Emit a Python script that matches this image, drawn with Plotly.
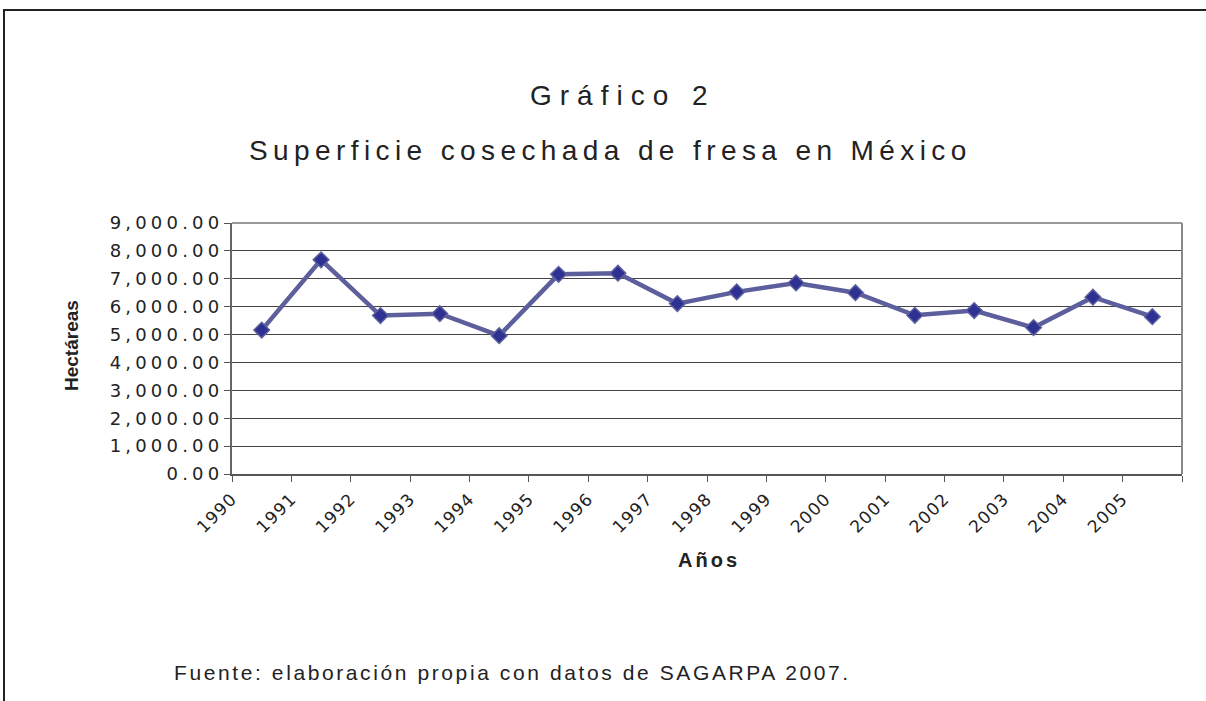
import plotly.graph_objects as go

years = [1990, 1991, 1992, 1993, 1994, 1995, 1996, 1997, 1998, 1999, 2000, 2001, 2002, 2003, 2004, 2005]
hectareas = [5160, 7680, 5680, 5750, 4960, 7160, 7200, 6110, 6530, 6850, 6500, 5690, 5860, 5250, 6340, 5640]
y_ticks = [0, 1000, 2000, 3000, 4000, 5000, 6000, 7000, 8000, 9000]

title1 = "Gráfico 2"
title2 = "Superficie cosechada de fresa en México"
x_title = "Años"
y_title = "Hectáreas"
source = "Fuente: elaboración propia con datos de SAGARPA 2007."

W, H = 1206, 701
L, R, T, B = 232, 1182, 223, 474

def px(x):
    return (x - L) / (R - L)

def py(y):
    return (B - y) / (B - T)

def sp(text, ls):
    return f"<span style='letter-spacing:{ls}px'>{text}</span>"

fig = go.Figure()
fig.add_trace(go.Scatter(
    x=[y + 0.5 for y in years], y=hectareas,
    mode="lines+markers",
    line=dict(color="#5c5f9c", width=4.5),
    marker=dict(symbol="diamond", size=12, color="#2e3192",
                line=dict(color="#5c5f9c", width=1.5)),
    showlegend=False, hoverinfo="skip",
))

fig.update_layout(
    width=W, height=H,
    margin=dict(l=L, r=W - R, t=T, b=H - B),
    paper_bgcolor="white", plot_bgcolor="white",
    font=dict(family="Arial, Liberation Sans", color="#222"),
    xaxis=dict(
        range=[years[0], years[-1] + 1],
        tickvals=years + [years[-1] + 1],
        ticktext=[sp(str(y), 1.2) for y in years] + [""],
        tickangle=-45,
        ticks="outside", ticklen=6, tickcolor="#555", tickwidth=1,
        showline=True, linecolor="#555", linewidth=2,
        showgrid=False, zeroline=False,
        tickfont=dict(size=17, color="#222", family="DejaVu Sans"),
    ),
    yaxis=dict(
        range=[0, 9000],
        tickvals=y_ticks,
        ticktext=[sp(f"{v:,.2f}", 4.2) for v in y_ticks],
        ticks="outside", ticklen=6, tickcolor="#555", tickwidth=1,
        ticklabelstandoff=-3,
        showline=True, linecolor="#666", linewidth=2,
        showgrid=True, gridcolor="#444", gridwidth=1,
        zeroline=False,
        tickfont=dict(size=18, color="#222", family="DejaVu Sans"),
    ),
)

# plot-area top and right border
fig.add_shape(type="line", xref="paper", yref="paper", x0=0, x1=1, y0=1, y1=1,
              line=dict(color="#999", width=2))
fig.add_shape(type="line", xref="paper", yref="paper", x0=1, x1=1, y0=0, y1=1,
              line=dict(color="#888", width=2))

# outer frame (top and left)
fig.add_shape(type="line", xref="paper", yref="paper", x0=px(3), x1=px(W + 5),
              y0=py(10), y1=py(10), line=dict(color="#222", width=2))
fig.add_shape(type="line", xref="paper", yref="paper", x0=px(4), x1=px(4),
              y0=py(10), y1=py(H + 5), line=dict(color="#222", width=2))

ann = [
    (title1, 623, 95, 28, 8, False, 0),
    (title2, 610, 150, 28, 5.4, False, 0),
    (x_title, 709, 560, 20, 3, True, 0),
    (y_title, 71, 346, 19, 0, True, -90),
    (source, 512, 672, 21, 2.6, False, 0),
]
for text, x, y, size, ls, bold, ang in ann:
    t = sp(text, ls) if ls else text
    if bold:
        t = f"<b>{t}</b>"
    fig.add_annotation(
        text=t, xref="paper", yref="paper", x=px(x), y=py(y),
        xanchor="center", yanchor="middle", showarrow=False,
        textangle=ang,
        font=dict(size=size, color="#222",
                  family="Arial, Liberation Sans"),
    )

fig.write_html("out.html", config={"displayModeBar": False},
               post_script="document.body.style.margin='0';document.body.style.padding='0';")
